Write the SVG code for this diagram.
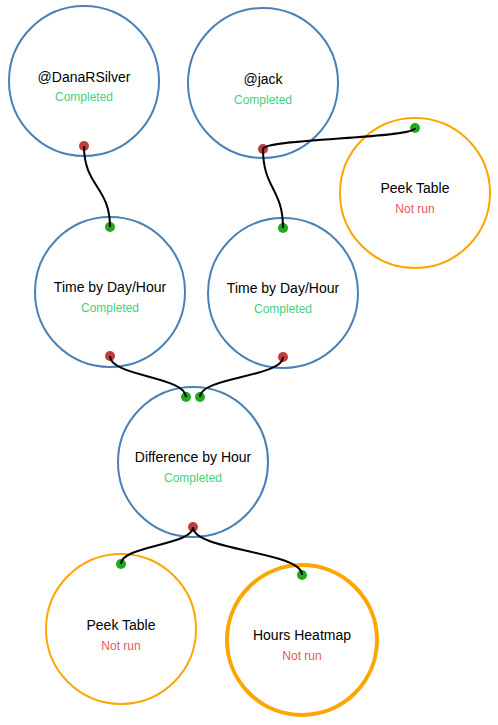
<svg xmlns="http://www.w3.org/2000/svg" width="498" height="725" viewBox="0 0 498 725">
<style>
.n{fill:#fff;stroke-width:2}
.done{stroke:#4a80b4}
.idle{stroke:#ffa500}
.thick{stroke-width:4}
.lbl{font-family:"Liberation Sans",Arial,sans-serif;font-size:14px;fill:#000;text-anchor:middle}
.st{font-family:"Liberation Sans",Arial,sans-serif;font-size:12px;text-anchor:middle}
.ok{fill:#45d07c}
.no{fill:#e05a5e}
.out{fill:#c23b3b}
.in{fill:#21a821}
.c{fill:none;stroke:#000;stroke-width:2}
</style>
<rect width="498" height="725" fill="#fff"/>
<g id="node-dana">
<circle class="n done" cx="84" cy="81" r="75"/>
<text class="lbl" x="84" y="82">@DanaRSilver</text>
<text class="st ok" x="84" y="101">Completed</text>
<circle class="out" cx="84" cy="146" r="5"/>
</g>
<g id="node-jack">
<circle class="n done" cx="263" cy="83" r="75"/>
<text class="lbl" x="263" y="84">@jack</text>
<text class="st ok" x="263" y="104">Completed</text>
<circle class="out" cx="263" cy="149" r="5"/>
</g>
<g id="node-peek1">
<circle class="n idle" cx="415" cy="193" r="75"/>
<text class="lbl" x="415" y="193">Peek Table</text>
<text class="st no" x="415" y="213">Not run</text>
<circle class="in" cx="415" cy="128" r="5"/>
</g>
<g id="node-time1">
<circle class="n done" cx="110" cy="292" r="75"/>
<text class="lbl" x="110" y="292">Time by Day/Hour</text>
<text class="st ok" x="110" y="312">Completed</text>
<circle class="in" cx="110" cy="227" r="5"/>
<circle class="out" cx="110" cy="356" r="5"/>
</g>
<g id="node-time2">
<circle class="n done" cx="283" cy="293" r="75"/>
<text class="lbl" x="283" y="293">Time by Day/Hour</text>
<text class="st ok" x="283" y="313">Completed</text>
<circle class="in" cx="283" cy="228" r="5"/>
<circle class="out" cx="283" cy="357" r="5"/>
</g>
<g id="node-diff">
<circle class="n done" cx="193" cy="462" r="75"/>
<text class="lbl" x="193" y="462">Difference by Hour</text>
<text class="st ok" x="193" y="482">Completed</text>
<circle class="in" cx="186" cy="397" r="5"/>
<circle class="in" cx="200" cy="397" r="5"/>
<circle class="out" cx="193" cy="527" r="5"/>
</g>
<g id="node-peek2">
<circle class="n idle" cx="121" cy="629" r="75"/>
<text class="lbl" x="121" y="630">Peek Table</text>
<text class="st no" x="121" y="650">Not run</text>
<circle class="in" cx="121" cy="564" r="5"/>
</g>
<g id="node-heatmap">
<circle class="n idle thick" cx="302" cy="640" r="75"/>
<text class="lbl" x="302" y="640">Hours Heatmap</text>
<text class="st no" x="302" y="660">Not run</text>
<circle class="in" cx="302" cy="575" r="5"/>
</g>
<g id="connectors">
<path class="c" d="M84,146 C84,186.5 110,186.5 110,227"/>
<path class="c" d="M263,149 C263,188.5 283,188.5 283,228"/>
<path class="c" d="M263,149 C263,138.5 415,138.5 415,128"/>
<path class="c" d="M110,356 C110,376.5 186,376.5 186,397"/>
<path class="c" d="M283,357 C283,377 200,377 200,397"/>
<path class="c" d="M193,527 C193,545.5 121,545.5 121,564"/>
<path class="c" d="M193,527 C193,551 302,551 302,575"/>
</g>
</svg>
